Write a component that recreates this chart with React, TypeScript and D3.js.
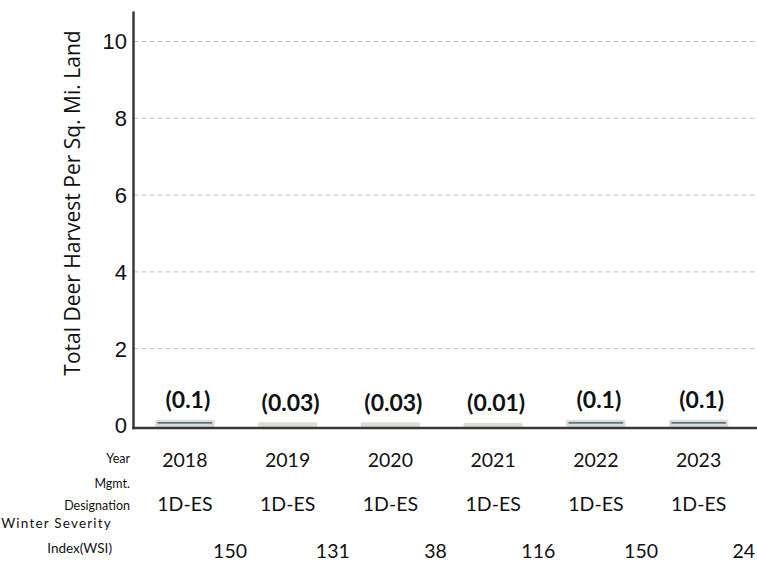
import React from 'react';
import * as d3 from 'd3';

const years = ['2018', '2019', '2020', '2021', '2022', '2023'];
const harvest = [0.1, 0.03, 0.03, 0.01, 0.1, 0.1];
const mgmt = ['1D-ES', '1D-ES', '1D-ES', '1D-ES', '1D-ES', '1D-ES'];
const wsi = [150, 131, 38, 116, 150, 24];
const yTicks = [0, 2, 4, 6, 8, 10];

const W = 757;
const H = 574;
const axisX = 133.5;

export default function App() {
  const x = d3.scaleBand<string>()
    .domain(years)
    .range([axisX, 750])
    .paddingInner(0.42)
    .paddingOuter(0.21);

  const y = d3.scaleLinear().domain([0, 10]).range([425.5, 41.5]);
  const y0 = y(0);
  const bw = x.bandwidth();
  const step = x.step();

  const cell = "Lato, 'Open Sans', sans-serif";

  return (
    <svg width={W} height={H} style={{ position: 'absolute', left: 0, top: 0, background: '#fff' }}>
      {/* gridlines */}
      {yTicks.filter(t => t > 0).map(t => (
        <line key={t} x1={axisX} x2={W} y1={y(t)} y2={y(t)}
          stroke="#c0c0c0" strokeWidth={1} strokeDasharray="5,3" />
      ))}

      {/* tick labels */}
      {yTicks.map(t => (
        <text key={t} x={127} y={y(t)} dy="0.36em" textAnchor="end"
          fontFamily="'Liberation Sans', Arial, sans-serif" fontSize={22} fill="#111">{t}</text>
      ))}

      {/* y axis title */}
      <text transform={`translate(80,${203}) rotate(-90)`} textAnchor="middle"
        fontFamily="'Open Sans', sans-serif" fontSize={21} fill="#111">
        Total Deer Harvest Per Sq. Mi. Land
      </text>

      {/* bars */}
      {years.map((yr, i) => {
        const x0 = x(yr)!;
        const top = y(harvest[i]);
        return (
          <g key={yr}>
            <rect x={x0} y={top - 2} width={bw} height={y0 + 1.5 - (top - 2)} rx={2}
              fill="#dcdcd7" />
            {y0 - top > 3 && (
              <line x1={x0 + 2.5} x2={x0 + bw - 2.5} y1={top + 1.2} y2={top + 1.2}
                stroke="#1f4e79" strokeWidth={1.4} />
            )}
            <text x={x0 + bw / 2 + 3} y={top - 13.7} textAnchor="middle"
              fontFamily={cell} fontWeight="bold" fontSize={23} fill="#111">
              {`(${harvest[i]})`}
            </text>
          </g>
        );
      })}

      {/* axes */}
      <line x1={axisX} x2={axisX} y1={11.5} y2={429.2} stroke="#3a3633" strokeWidth={2.5} />
      <line x1={axisX - 1.2} x2={W} y1={428} y2={428} stroke="#3a3633" strokeWidth={2.5} />

      {/* table rows */}
      <g fontFamily={cell} fill="#111">
        <text x={130} y={463.3} textAnchor="end" fontSize={12.5}>Year</text>
        <text x={130} y={487.7} textAnchor="end" fontSize={12.5}>Mgmt.</text>
        <text x={130} y={510} textAnchor="end" fontSize={12.5}>Designation</text>
        <text x={112} y={528.3} textAnchor="end" fontSize={13.5} letterSpacing={1.2}>Winter Severity</text>
        <text x={112} y={553.3} textAnchor="end" fontSize={13.5}>Index(WSI)</text>

        {years.map(yr => (
          <text key={yr} x={x(yr)! + bw / 2} y={467} textAnchor="middle" fontSize={19.5}>{yr}</text>
        ))}
        {mgmt.map((m, i) => (
          <text key={i} x={x(years[i])! + bw / 2} y={511} textAnchor="middle" fontSize={19.5}>{m}</text>
        ))}
        {wsi.map((v, i) => (
          <text key={i} x={x(years[i])! + bw / 2 + step * 0.44} y={558} textAnchor="middle" fontSize={19.5}>{v}</text>
        ))}
      </g>
    </svg>
  );
}
